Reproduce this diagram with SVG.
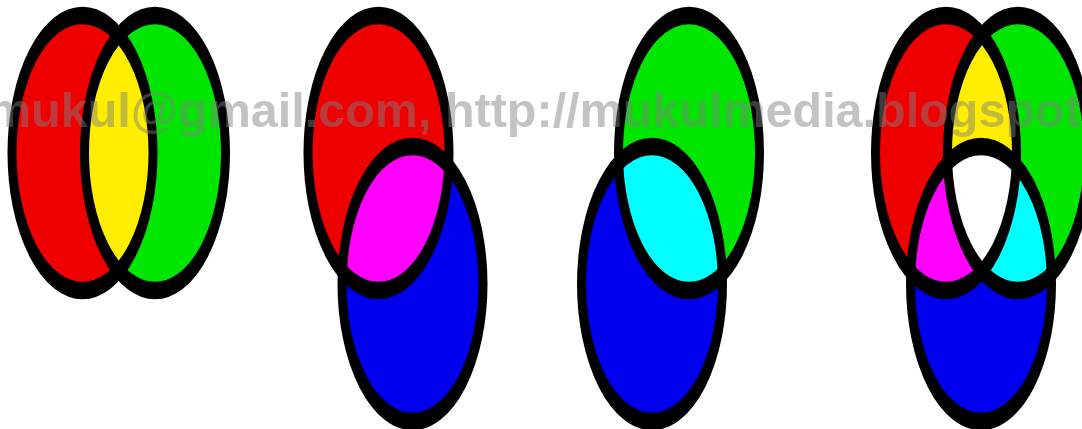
<svg xmlns="http://www.w3.org/2000/svg" xmlns:xlink="http://www.w3.org/1999/xlink" width="1082" height="429" viewBox="0 0 1082 429">
<style>
.o{fill:none;stroke:#000;stroke-width:9}
.r{fill:#ee0000}.g{fill:#00e600}.b{fill:#0000ee}.y{fill:#ffee00}.m{fill:#ff00ff}.c{fill:#00ffff}.w{fill:#ffffff}
.wm{font-family:"Liberation Sans",Arial,sans-serif;font-weight:bold;font-size:48.5px;fill:#808080;fill-opacity:0.47}
</style>
<defs>
<circle id="R1" cx="82.5" cy="78.46" r="70.5"/>
<circle id="G1" cx="155" cy="78.46" r="70.5"/>
<circle id="R2" cx="378.5" cy="78.46" r="70.5"/>
<circle id="B2" cx="412.5" cy="145.64" r="70.5"/>
<circle id="G3" cx="689" cy="78.46" r="70.5"/>
<circle id="B3" cx="652" cy="145.64" r="70.5"/>
<circle id="R4" cx="946" cy="78.46" r="70.5"/>
<circle id="G4" cx="1018" cy="78.46" r="70.5"/>
<circle id="B4" cx="981" cy="145.64" r="70.5"/>
<clipPath id="cR1"><use href="#R1" xlink:href="#R1"/></clipPath>
<clipPath id="cR2"><use href="#R2" xlink:href="#R2"/></clipPath>
<clipPath id="cG3"><use href="#G3" xlink:href="#G3"/></clipPath>
<clipPath id="cR4"><use href="#R4" xlink:href="#R4"/></clipPath>
<clipPath id="cG4"><use href="#G4" xlink:href="#G4"/></clipPath>
</defs>
<rect width="1082" height="429" fill="#ffffff"/>
<g transform="scale(1,1.95)">
<g id="panel1">
<use href="#R1" xlink:href="#R1" class="r"/>
<use href="#G1" xlink:href="#G1" class="g"/>
<g clip-path="url(#cR1)"><use href="#G1" xlink:href="#G1" class="y"/></g>
<use href="#R1" xlink:href="#R1" class="o"/>
<use href="#G1" xlink:href="#G1" class="o"/>
</g>
<g id="panel2">
<use href="#R2" xlink:href="#R2" class="r"/>
<use href="#B2" xlink:href="#B2" class="b"/>
<g clip-path="url(#cR2)"><use href="#B2" xlink:href="#B2" class="m"/></g>
<use href="#R2" xlink:href="#R2" class="o"/>
<use href="#B2" xlink:href="#B2" class="o"/>
</g>
<g id="panel3">
<use href="#G3" xlink:href="#G3" class="g"/>
<use href="#B3" xlink:href="#B3" class="b"/>
<g clip-path="url(#cG3)"><use href="#B3" xlink:href="#B3" class="c"/></g>
<use href="#G3" xlink:href="#G3" class="o"/>
<use href="#B3" xlink:href="#B3" class="o"/>
</g>
<g id="panel4">
<use href="#R4" xlink:href="#R4" class="r"/>
<use href="#G4" xlink:href="#G4" class="g"/>
<use href="#B4" xlink:href="#B4" class="b"/>
<g clip-path="url(#cR4)">
<use href="#G4" xlink:href="#G4" class="y"/>
<use href="#B4" xlink:href="#B4" class="m"/>
</g>
<g clip-path="url(#cG4)"><use href="#B4" xlink:href="#B4" class="c"/></g>
<g clip-path="url(#cR4)"><g clip-path="url(#cG4)"><use href="#B4" xlink:href="#B4" class="w"/></g></g>
<use href="#R4" xlink:href="#R4" class="o"/>
<use href="#G4" xlink:href="#G4" class="o"/>
<use href="#B4" xlink:href="#B4" class="o"/>
</g>
</g>
<text class="wm" x="-12" y="127">mukul@gmail.com, http://mukulmedia.blogspot</text>
</svg>
